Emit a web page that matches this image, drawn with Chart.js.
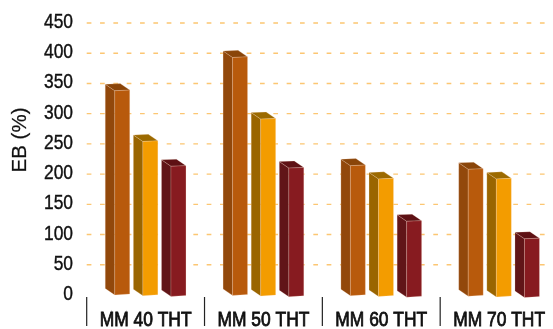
<!DOCTYPE html>
<html>
<head>
<meta charset="utf-8">
<title>EB (%)</title>
<script src="https://cdn.jsdelivr.net/npm/chart.js@4/dist/chart.umd.js"></script>
<style>
  html, body { margin: 0; padding: 0; width: 553px; height: 329px; overflow: hidden; background: #fff; }
  canvas { display: block; }
</style>
</head>
<body>
<canvas id="myChart" width="600" height="329"></canvas>
<script>
const categories = ['MM 40 THT', 'MM 50 THT', 'MM 60 THT', 'MM 70 THT']
const seriesA = [338, 393, 214, 208]
const seriesB = [254, 291, 192, 192]
const seriesC = [213, 210, 122, 93]
const yTitle = 'EB (%)'

// front, side and top face of each bar
const faces = [
    { front: '#b85a0c', side: '#92480b', top: '#8a4509' },
    { front: '#f39c00', side: '#9a6500', top: '#9c6a00' },
    { front: '#871b20', side: '#611518', top: '#5e1114' }
]
const DEPTH_X = 9.5
const DEPTH_Y = 6.5
const GRID_END = 546
const TEXT_COLOR = '#111'
const FONT = '"Liberation Sans"'

function quad(ctx, pts, fill) {
    ctx.beginPath()
    ctx.moveTo(pts[0][0], pts[0][1])
    for (let i = 1; i < pts.length; i++) ctx.lineTo(pts[i][0], pts[i][1])
    ctx.closePath()
    ctx.fillStyle = fill
    ctx.fill()
    ctx.strokeStyle = 'rgba(255, 225, 205, 0.3)'
    ctx.lineWidth = 0.7
    ctx.stroke()
}

// condensed label: no narrow face around, so squeeze horizontally and thicken a little
function narrowText(ctx, text, x, y, align, weight) {
    ctx.save()
    ctx.translate(x, y)
    ctx.scale(0.87, 1)
    ctx.font = '20px ' + FONT
    ctx.fillStyle = TEXT_COLOR
    ctx.strokeStyle = TEXT_COLOR
    ctx.lineWidth = weight
    ctx.textAlign = align
    ctx.textBaseline = 'middle'
    ctx.fillText(text, 0, 0)
    ctx.strokeText(text, 0, 0)
    ctx.restore()
}

// dashed grid under the bars, separators and all the axis text
const gridPlugin = {
    id: 'dashGrid',
    beforeDatasetsDraw(chart) {
        const { ctx, scales: { x, y } } = chart
        ctx.save()
        ctx.strokeStyle = '#fcc672'
        ctx.lineWidth = 1.4
        ctx.setLineDash([4.7, 8.63])
        y.ticks.forEach((tick, i) => {
            if (tick.value === 0) return
            const py = y.getPixelForTick(i)
            ctx.beginPath()
            ctx.moveTo(x.left, py)
            ctx.lineTo(GRID_END, py)
            ctx.stroke()
        })
        ctx.restore()

        y.ticks.forEach((tick, i) => {
            narrowText(ctx, String(tick.value), 73, y.getPixelForTick(i) - 0.5, 'right', 0.4)
        })

        ctx.save()
        ctx.strokeStyle = '#222'
        ctx.lineWidth = 1.2
        const pitch = x.getPixelForValue(1) - x.getPixelForValue(0)
        categories.forEach((label, i) => {
            const cx = x.getPixelForValue(i)
            const px = cx - pitch / 2
            ctx.beginPath()
            ctx.moveTo(px, y.bottom + 2)
            ctx.lineTo(px, y.bottom + 31)
            ctx.stroke()
            narrowText(ctx, label, cx, y.bottom + 25, 'center', 0.8)
        })
        ctx.restore()

        ctx.save()
        ctx.translate(20.5, 140)
        ctx.rotate(-Math.PI / 2)
        ctx.font = '20.5px ' + FONT
        ctx.fillStyle = TEXT_COLOR
        ctx.strokeStyle = TEXT_COLOR
        ctx.lineWidth = 0.25
        ctx.textAlign = 'center'
        ctx.textBaseline = 'middle'
        ctx.fillText(yTitle, 0, 0)
        ctx.strokeText(yTitle, 0, 0)
        ctx.restore()
    }
}

// the bar element's box is the bar's footprint: front face on the right, depth on the left
const bars3dPlugin = {
    id: 'bars3d',
    afterDatasetsDraw(chart) {
        const ctx = chart.ctx
        chart.data.datasets.forEach((ds, d) => {
            const f = faces[d]
            chart.getDatasetMeta(d).data.forEach((bar, i) => {
                const left = bar.x - bar.width / 2
                const right = bar.x + bar.width / 2
                const fl = left + DEPTH_X
                const bottom = bar.base + 0.4 * i + 0.7 * d
                const top = bar.y
                ctx.save()
                quad(ctx, [[left, top - DEPTH_Y], [fl, top], [fl, bottom], [left, bottom - DEPTH_Y]], f.side)
                quad(ctx, [[left, top - DEPTH_Y], [right - DEPTH_X, top - DEPTH_Y - 0.6], [right, top - 0.6], [fl, top]], f.top)
                quad(ctx, [[fl, top], [right, top - 0.6], [right, bottom - 1], [fl, bottom]], f.front)
                ctx.restore()
            })
        })
    }
}

const data = {
    labels: categories,
    datasets: [
        { data: seriesA, backgroundColor: 'transparent' },
        { data: seriesB, backgroundColor: 'transparent' },
        { data: seriesC, backgroundColor: 'transparent' }
    ]
}

new Chart(document.getElementById('myChart'), {
    type: 'bar',
    data,
    plugins: [gridPlugin, bars3dPlugin],
    options: {
        responsive: false,
        animation: false,
        categoryPercentage: 0.716,
        barPercentage: 0.87,
        layout: { padding: { top: 23, right: 42, left: 0, bottom: 0 } },
        plugins: { legend: { display: false }, tooltip: { enabled: false } },
        scales: {
            x: {
                grid: { display: false },
                border: { display: false },
                afterFit(scale) { scale.height = 34 },
                ticks: { display: false }
            },
            y: {
                min: 0,
                max: 450,
                grid: { display: false },
                border: { display: false },
                afterFit(scale) { scale.width = 86.7 },
                ticks: { display: false, stepSize: 50 }
            }
        }
    }
})
</script>
</body>
</html>
